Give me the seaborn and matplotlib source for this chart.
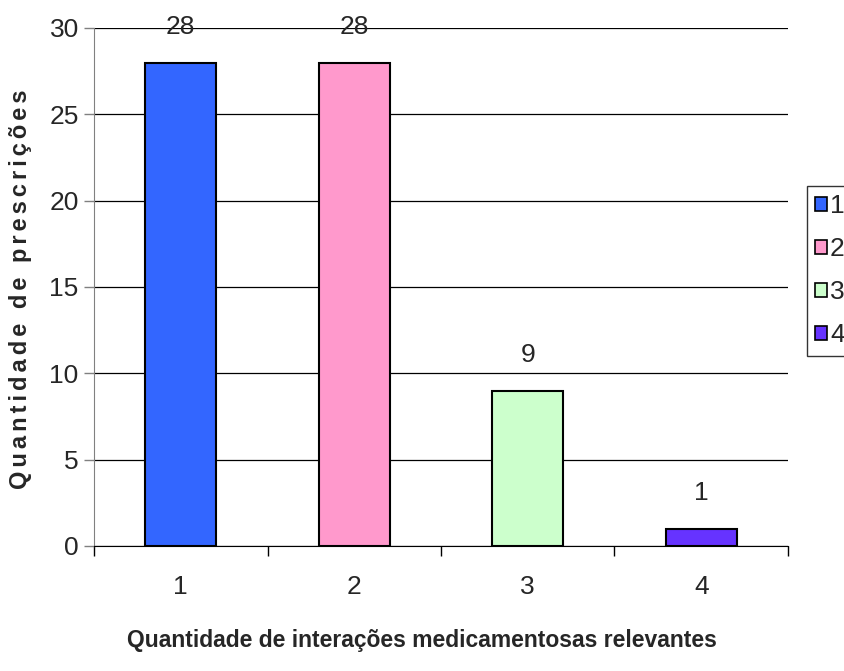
import matplotlib
matplotlib.use("Agg")
import matplotlib.pyplot as plt
import pandas as pd
import seaborn as sns
from matplotlib.patches import Patch

categorias = ["1", "2", "3", "4"]
prescricoes = [28, 28, 9, 1]
cores = ["#3366FF", "#FF99CC", "#CCFFCC", "#6633FF"]

sns.set_style("white")
plt.rcParams["font.family"] = ["Liberation Sans", "DejaVu Sans"]

df = pd.DataFrame({"cat": categorias, "valor": prescricoes})

fig = plt.figure(figsize=(8.44, 6.71), dpi=100)
ax = fig.add_axes([0.1114, 0.1863, 0.8222, 0.772])

sns.barplot(data=df, x="cat", y="valor", hue="cat", palette=cores, width=0.41,
            edgecolor="black", linewidth=1.5, legend=False, ax=ax, saturation=1)

ax.set_ylim(0, 30)
ax.set_xlim(-0.5, 3.5)
ax.set_yticks(range(0, 31, 5))
ax.yaxis.grid(True, color="black", linewidth=0.9)
ax.set_axisbelow(True)

for s in ["top", "right"]:
    ax.spines[s].set_visible(False)
ax.spines["left"].set_color("#808080")
ax.spines["bottom"].set_color("black")

ax.tick_params(axis="y", length=7, width=1, color="#808080", labelsize=19, pad=4, left=True)
ax.tick_params(axis="x", length=0, labelsize=19, pad=21)
ax.set_xticks(range(4))
ax.set_xticklabels(categorias)
# marcas entre categorias
ax.set_xticks([-0.5, 0.5, 1.5, 2.5, 3.5], minor=True)
ax.tick_params(axis="x", which="minor", length=7, width=1, color="black", bottom=True)

for i, v in enumerate(prescricoes):
    ax.text(i, v + 1.35, str(v), ha="center", va="bottom", fontsize=19)

ax.set_xlabel("Quantidade de interações medicamentosas relevantes", fontsize=16.5,
              fontweight="bold")
ax.xaxis.set_label_coords((422 - 94) / 694, -0.16)

# espacamento entre letras como no original
rotulo_y = "\u200a\u200a".join("Quantidade de prescrições")
ax.set_ylabel(rotulo_y, fontsize=17, fontweight="bold")
ax.yaxis.set_label_coords(-0.09, 0.495)

handles = [Patch(facecolor=c, edgecolor="black", linewidth=1.2) for c in cores]
fig.legend(handles, categorias, loc="upper left", bbox_to_anchor=(807 / 844, 1 - 186 / 671),
           frameon=True, edgecolor="black", fancybox=False, fontsize=19,
           handlelength=0.45, handleheight=0.45, handletextpad=0.1, labelspacing=0.72,
           borderpad=0.32, borderaxespad=0)

fig.savefig("out.png", dpi=100)
